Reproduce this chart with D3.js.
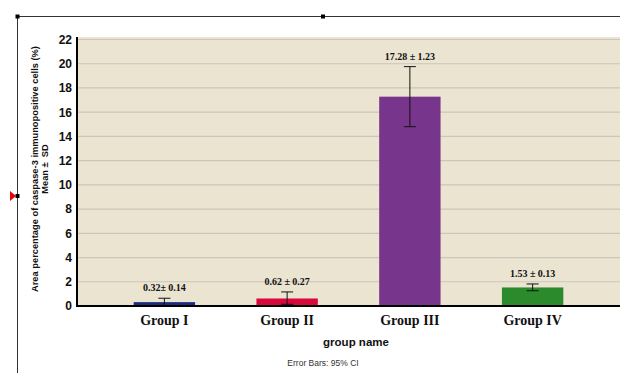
<!DOCTYPE html>
<html>
<head>
<meta charset="utf-8">
<script src="https://cdn.jsdelivr.net/npm/d3@7/dist/d3.min.js"></script>
<style>
  html, body { margin: 0; padding: 0; background: #ffffff; }
  svg { display: block; }
</style>
</head>
<body>
<svg id="chart" width="620" height="373"></svg>
<script>
// Caspase-3 immunopositive area per group (mean ± SD), with 95% CI error bars
const groups   = ["Group I", "Group II", "Group III", "Group IV"];
const means    = [0.32, 0.62, 17.28, 1.53];
const sds      = [0.14, 0.27, 1.23, 0.13];
const ciLow    = [0.02, 0.14, 14.8, 1.26];
const ciHigh   = [0.64, 1.16, 19.76, 1.82];
const colors   = ["#1c2b7e", "#d7083c", "#77368c", "#2b8a2b"];
const yTicks   = [0, 2, 4, 6, 8, 10, 12, 14, 16, 18, 20, 22];
const valueLabels = ["0.32\u00b1 0.14", "0.62 \u00b1 0.27", "17.28 \u00b1 1.23", "1.53 \u00b1 0.13"];

const svg = d3.select("#chart");

const plot = { left: 77, right: 620, top: 37, bottom: 306 };

const y = d3.scaleLinear().domain([0, 22]).range([306, 39.5]);
const x = d3.scaleBand().domain(groups).range([103, 594])
  .paddingInner(0.5).paddingOuter(0.25);

// Frame lines around the chart
svg.append("line").attr("x1", 17).attr("x2", 620).attr("y1", 16.5).attr("y2", 16.5)
  .attr("stroke", "#333").attr("stroke-width", 1);
svg.append("line").attr("x1", 17.5).attr("x2", 17.5).attr("y1", 16).attr("y2", 373)
  .attr("stroke", "#333").attr("stroke-width", 1);
[[17.5, 16.5], [323, 16.5], [17.5, 196]].forEach(([cx, cy]) => {
  svg.append("rect").attr("x", cx - 2).attr("y", cy - 2).attr("width", 4).attr("height", 4).attr("fill", "#000");
});
svg.append("path").attr("d", "M10,191 L16,196 L10,201 Z").attr("fill", "#e8000b");

// Plot background
svg.append("rect").attr("x", plot.left).attr("y", plot.top)
  .attr("width", plot.right - plot.left).attr("height", plot.bottom - plot.top)
  .attr("fill", "#ebe4d1");

// Gridlines
svg.append("g").selectAll("line").data(yTicks.filter(d => d > 0)).join("line")
  .attr("x1", plot.left).attr("x2", plot.right)
  .attr("y1", d => y(d)).attr("y2", d => y(d))
  .attr("stroke", "#cbc6ba").attr("stroke-width", 1.2);

// Bars
svg.append("g").selectAll("rect").data(groups).join("rect")
  .attr("x", d => x(d)).attr("width", x.bandwidth())
  .attr("y", (d, i) => y(means[i]))
  .attr("height", (d, i) => y(0) - y(means[i]))
  .attr("fill", (d, i) => colors[i]);

// Error bars
const eb = svg.append("g").attr("stroke", "#111").attr("stroke-width", 1);
groups.forEach((g, i) => {
  const cx = x(g) + x.bandwidth() / 2;
  eb.append("line").attr("x1", cx).attr("x2", cx).attr("y1", y(ciHigh[i])).attr("y2", y(ciLow[i]));
  eb.append("line").attr("x1", cx - 6).attr("x2", cx + 6).attr("y1", y(ciHigh[i])).attr("y2", y(ciHigh[i]));
  eb.append("line").attr("x1", cx - 6).attr("x2", cx + 6).attr("y1", y(ciLow[i])).attr("y2", y(ciLow[i]));
});

// Value labels (mean ± SD)
svg.append("g").selectAll("text").data(groups).join("text")
  .attr("x", d => x(d) + x.bandwidth() / 2)
  .attr("y", (d, i) => y(ciHigh[i]) - 7)
  .attr("text-anchor", "middle")
  .attr("font-family", "'Liberation Serif', 'Times New Roman', serif")
  .attr("font-weight", "bold").attr("font-size", 10).attr("fill", "#111")
  .text((d, i) => valueLabels[i]);

// Y axis
const yAxis = svg.append("g").attr("transform", `translate(${plot.left},0)`)
  .call(d3.axisLeft(y).tickValues(yTicks).tickSize(0).tickPadding(5));
yAxis.select(".domain").remove();
yAxis.selectAll("text")
  .attr("font-family", "'Liberation Sans', Arial, sans-serif")
  .attr("font-weight", "bold").attr("font-size", 12).attr("fill", "#111");
svg.append("line").attr("x1", plot.left).attr("x2", plot.left)
  .attr("y1", plot.top).attr("y2", plot.bottom + 1)
  .attr("stroke", "#000").attr("stroke-width", 2);

// X axis
const xAxis = svg.append("g").attr("transform", `translate(0,${plot.bottom})`)
  .call(d3.axisBottom(x).tickSize(0).tickPadding(9));
xAxis.select(".domain").remove();
xAxis.selectAll("text")
  .attr("font-family", "'Liberation Serif', 'Times New Roman', serif")
  .attr("font-weight", "bold").attr("font-size", 14).attr("fill", "#111");
svg.append("line").attr("x1", plot.left - 1).attr("x2", plot.right)
  .attr("y1", plot.bottom).attr("y2", plot.bottom)
  .attr("stroke", "#000").attr("stroke-width", 2);

// Axis titles
svg.append("text").attr("x", 356).attr("y", 346).attr("text-anchor", "middle")
  .attr("font-family", "'Liberation Sans', Arial, sans-serif")
  .attr("font-weight", "bold").attr("font-size", 11.5).attr("fill", "#111")
  .text("group name");

const yTitle = svg.append("text")
  .attr("transform", "translate(38,169) rotate(-90)")
  .attr("text-anchor", "middle")
  .attr("font-family", "'Liberation Sans', Arial, sans-serif")
  .attr("font-weight", "bold").attr("font-size", 9.3).attr("fill", "#111");
yTitle.append("tspan").attr("x", 0).attr("dy", 0)
  .text("Area percentage of caspase-3 immunopositive cells (%)");
yTitle.append("tspan").attr("x", 0).attr("dy", 10).text("Mean \u00b1\u00a0\u00a0SD");

// Footnote
svg.append("text").attr("x", 323).attr("y", 366).attr("text-anchor", "middle")
  .attr("font-family", "'Liberation Sans', Arial, sans-serif")
  .attr("font-size", 8.5).attr("fill", "#333")
  .text("Error Bars: 95% CI");
</script>
</body>
</html>
